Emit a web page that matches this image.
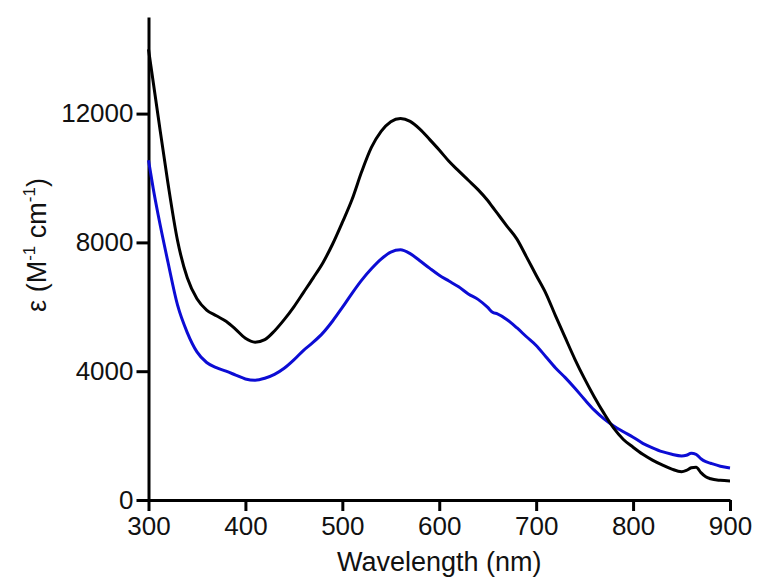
<!DOCTYPE html>
<html>
<head>
<meta charset="utf-8">
<script src="https://cdn.jsdelivr.net/npm/d3@7"></script>
<style>
  body { margin: 0; background: #fff; }
  svg { display: block; font-family: "Liberation Sans", Arial, sans-serif; }
</style>
</head>
<body>
<div id="chart"></div>
<script>
// wavelength grid (nm)
const wavelengths = [300, 305, 310, 320, 330, 340, 350, 360, 370, 380, 390, 400, 410, 420, 430, 440, 450, 460, 470, 480, 490, 500, 510, 520, 530, 540, 550, 560, 570, 580, 590, 600, 610, 620, 630, 640, 650, 655, 660, 670, 680, 690, 700, 710, 720, 730, 740, 750, 760, 770, 780, 790, 800, 810, 820, 830, 840, 850, 855, 860, 865, 870, 875, 880, 890, 900];

// black spectrum (M-1 cm-1)
const blackSeries = [14000, 12950, 11900, 9850, 8050, 6900, 6250, 5900, 5720, 5550, 5300, 5020, 4900, 4980, 5250, 5600, 6000, 6450, 6900, 7370, 7950, 8620, 9330, 10200, 10950, 11450, 11750, 11850, 11760, 11520, 11200, 10870, 10520, 10220, 9930, 9640, 9300, 9100, 8900, 8500, 8110, 7550, 6980, 6420, 5720, 5040, 4370, 3760, 3200, 2690, 2230, 1880, 1640, 1420, 1240, 1090, 960, 880, 920, 1000, 1020, 850, 720, 660, 610, 590];

// blue spectrum (M-1 cm-1)
const blueSeries = [10550, 9650, 8850, 7400, 6050, 5200, 4600, 4270, 4110, 4000, 3880, 3760, 3720, 3780, 3900, 4090, 4350, 4650, 4900, 5190, 5560, 5980, 6420, 6830, 7180, 7480, 7700, 7770, 7650, 7430, 7200, 6980, 6800, 6620, 6400, 6230, 5980, 5830, 5780, 5600, 5350, 5070, 4800, 4450, 4100, 3800, 3470, 3120, 2790, 2520, 2300, 2120, 1950, 1760, 1620, 1500, 1420, 1370, 1390, 1450, 1420, 1280, 1190, 1140, 1050, 995];

const xTicks = [300, 400, 500, 600, 700, 800, 900];
const yTicks = [0, 4000, 8000, 12000];

const width = 757;
const height = 583;
const margin = { top: 17, right: 27, bottom: 83, left: 148.5 };

const svg = d3
  .select('#chart')
  .append('svg')
  .attr('width', width)
  .attr('height', height);

const xScale = d3
  .scaleLinear()
  .domain([300, 900])
  .range([margin.left, width - margin.right]);

const yScale = d3
  .scaleLinear()
  .domain([0, 15000])
  .range([height - margin.bottom, margin.top]);

const xAxis = d3
  .axisBottom(xScale)
  .tickValues(xTicks)
  .tickFormat(d3.format('d'))
  .tickSize(11)
  .tickPadding(6)
  .tickSizeOuter(0);

const yAxis = d3
  .axisLeft(yScale)
  .tickValues(yTicks)
  .tickFormat(d3.format('d'))
  .tickSize(12)
  .tickPadding(3)
  .tickSizeOuter(0);

const gx = svg
  .append('g')
  .attr('transform', `translate(0, ${height - margin.bottom})`)
  .call(xAxis);

const gy = svg
  .append('g')
  .attr('transform', `translate(${margin.left}, 0)`)
  .call(yAxis);

[gx, gy].forEach((g) => {
  g.select('.domain').attr('stroke', '#000').attr('stroke-width', 3);
  g.selectAll('.tick line').attr('stroke', '#000').attr('stroke-width', 3);
  g.selectAll('.tick text')
    .attr('fill', '#111')
    .style('font-size', '26px')
    .style('font-family', '"Liberation Sans", Arial, sans-serif');
});

const line = (series) =>
  d3
    .line()
    .x((d, i) => xScale(wavelengths[i]))
    .y((d) => yScale(d))
    .curve(d3.curveMonotoneX)(series);

svg
  .append('path')
  .attr('d', line(blueSeries))
  .attr('fill', 'none')
  .attr('stroke', '#0c0cd4')
  .attr('stroke-width', 3);

svg
  .append('path')
  .attr('d', line(blackSeries))
  .attr('fill', 'none')
  .attr('stroke', '#000')
  .attr('stroke-width', 3);

// axis titles
svg
  .append('text')
  .attr('x', (margin.left + width - margin.right) / 2)
  .attr('y', 571)
  .attr('text-anchor', 'middle')
  .attr('fill', '#111')
  .style('font-size', '27px')
  .text('Wavelength (nm)');

const yTitle = svg
  .append('text')
  .attr('transform', 'translate(46, 245) rotate(-90)')
  .attr('text-anchor', 'middle')
  .attr('fill', '#111')
  .style('font-size', '27px');

yTitle.append('tspan').text('ε (M');
yTitle.append('tspan').attr('dy', -11).style('font-size', '17px').text('-1');
yTitle.append('tspan').attr('dy', 11).text(' cm');
yTitle.append('tspan').attr('dy', -11).style('font-size', '17px').text('-1');
yTitle.append('tspan').attr('dy', 11).text(')');
</script>
</body>
</html>
